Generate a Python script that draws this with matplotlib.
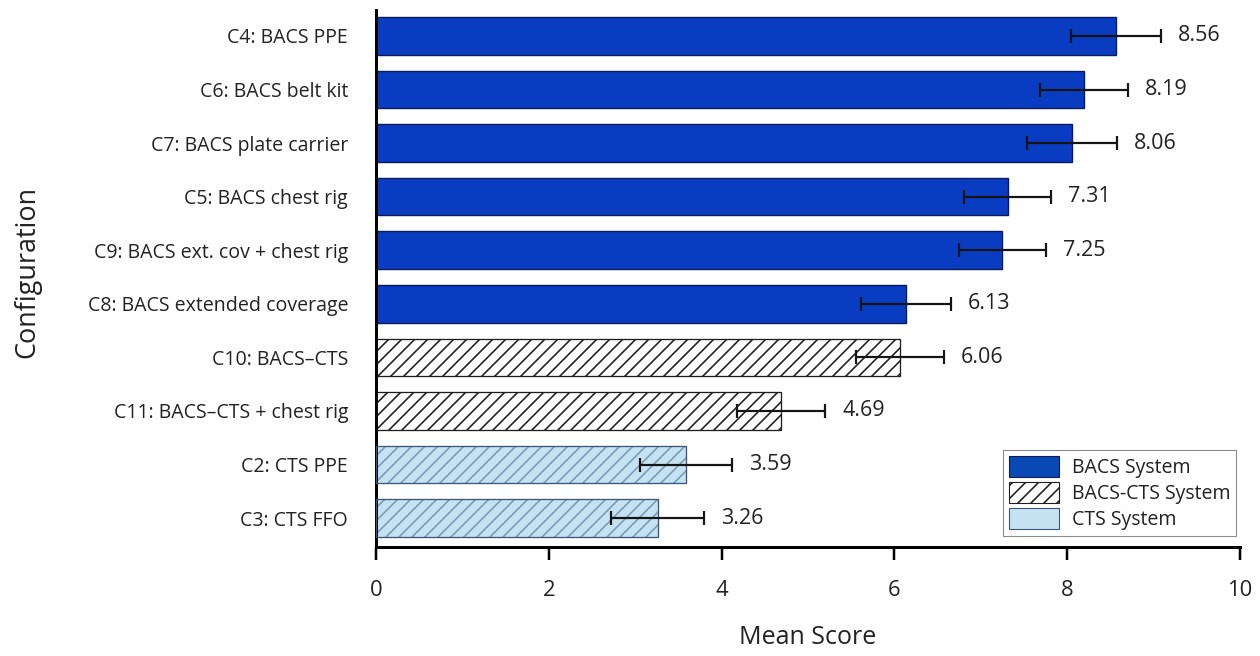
import matplotlib
matplotlib.use("Agg")
import matplotlib.pyplot as plt
from matplotlib.patches import Patch
import numpy as np

# ---- data -------------------------------------------------------------
configs = [
    "C4: BACS PPE",
    "C6: BACS belt kit",
    "C7: BACS plate carrier",
    "C5: BACS chest rig",
    "C9: BACS ext. cov + chest rig",
    "C8: BACS extended coverage",
    "C10: BACS\u2013CTS",
    "C11: BACS\u2013CTS + chest rig",
    "C2: CTS PPE",
    "C3: CTS FFO",
]
mean_scores = [8.56, 8.19, 8.06, 7.31, 7.25, 6.13, 6.06, 4.69, 3.59, 3.26]
std_errors = [0.52, 0.51, 0.52, 0.50, 0.50, 0.52, 0.51, 0.51, 0.53, 0.54]
systems = ["BACS"] * 6 + ["BACS-CTS"] * 2 + ["CTS"] * 2
legend_labels = ["BACS System", "BACS-CTS System", "CTS System"]
x_ticks = [0, 2, 4, 6, 8, 10]

# ---- styling ----------------------------------------------------------
DPI = 78
W, H = 1260, 656


def pt(px):
    """Convert a pixel size to points at the figure dpi."""
    return px * 72.0 / DPI


plt.rcParams["font.family"] = ["Open Sans", "DejaVu Sans"]
plt.rcParams["hatch.linewidth"] = pt(1.6)

TEXT = "#222222"
BACS_FACE = "#0a3cc2"
BACS_EDGE = "#0b1c5c"
MIX_EDGE = "#1e1e1e"
CTS_FACE = "#c4e2f2"
CTS_HATCH = "#7a9bb3"
CTS_EDGE = "#3b5676"

fig = plt.figure(figsize=(W / DPI, H / DPI), dpi=DPI)
ax_left, ax_right, ax_top, ax_bottom = 376, 1240, 10, 547
ax = fig.add_axes([ax_left / W, 1 - ax_bottom / H,
                   (ax_right - ax_left) / W, (ax_bottom - ax_top) / H])
ax_w = ax_right - ax_left
ax_h = ax_bottom - ax_top

n = len(configs)
ypos = np.arange(n)[::-1]
bar_h = 0.7

for y, m, g in zip(ypos, mean_scores, systems):
    if g == "BACS":
        ax.barh(y, m, height=bar_h, color=BACS_FACE, edgecolor=BACS_EDGE,
                linewidth=1.3, zorder=2)
    elif g == "BACS-CTS":
        ax.barh(y, m, height=bar_h, color="white", edgecolor=MIX_EDGE,
                hatch="//", linewidth=1.2, zorder=2)
    else:
        ax.barh(y, m, height=bar_h, color=CTS_FACE, edgecolor=CTS_HATCH,
                hatch="//", linewidth=0, zorder=2)
        ax.barh(y, m, height=bar_h, color="none", edgecolor=CTS_EDGE,
                linewidth=1.2, zorder=3)

ax.errorbar(mean_scores, ypos, xerr=std_errors, fmt="none", ecolor="#151515",
            elinewidth=pt(2.2), capsize=pt(7), capthick=pt(2.2), zorder=4)

for y, m, s in zip(ypos, mean_scores, std_errors):
    ax.annotate(f"{m:.2f}", xy=(m + s, y), xytext=(pt(17), 0),
                textcoords="offset points", ha="left", va="center",
                fontsize=pt(21.5), color=TEXT)

ax.set_xlim(0, 10)
ax.set_ylim(-0.54, 9.485)
ax.set_xticks(x_ticks)
ax.set_xticklabels([str(t) for t in x_ticks])
ax.set_yticks(ypos)
ax.set_yticklabels(configs)

ax.tick_params(axis="y", length=0, pad=pt(28), labelsize=pt(19.5),
               labelcolor=TEXT)
ax.tick_params(axis="x", direction="out", length=pt(13), width=pt(2.5),
               pad=pt(20), labelsize=pt(22), labelcolor=TEXT)

for side in ("top", "right"):
    ax.spines[side].set_visible(False)
for side in ("left", "bottom"):
    ax.spines[side].set_linewidth(pt(3))
    ax.spines[side].set_color("black")

ax.set_xlabel("Mean Score", fontsize=pt(25), color=TEXT)
ax.xaxis.label.set_va("center")
ax.xaxis.set_label_coords(0.5, -(638 - ax_bottom) / ax_h)

ax.set_ylabel("Configuration", fontsize=pt(27), color=TEXT)
ax.yaxis.label.set_va("center")
ax.yaxis.set_label_coords((27 - ax_left) / ax_w, (ax_bottom - 272) / ax_h)

handles = [
    Patch(facecolor="#0a48b4", edgecolor=BACS_EDGE, linewidth=1.0),
    Patch(facecolor="white", edgecolor=MIX_EDGE, hatch="//", linewidth=1.0),
    Patch(facecolor=CTS_FACE, edgecolor=CTS_EDGE, linewidth=1.0),
]
leg = ax.legend(handles, legend_labels, loc="lower right",
                bbox_to_anchor=((1236 - ax_left) / ax_w, (ax_bottom - 536) / ax_h),
                borderaxespad=0, fontsize=pt(19.5), frameon=True,
                fancybox=False, edgecolor="#8a8a8a", framealpha=1,
                handlelength=2.55, handleheight=1.25, handletextpad=0.65,
                labelspacing=0.22, borderpad=0.3)
leg.get_frame().set_linewidth(1.0)
for t in leg.get_texts():
    t.set_color(TEXT)

fig.savefig("out.png", dpi=DPI, facecolor="white")
